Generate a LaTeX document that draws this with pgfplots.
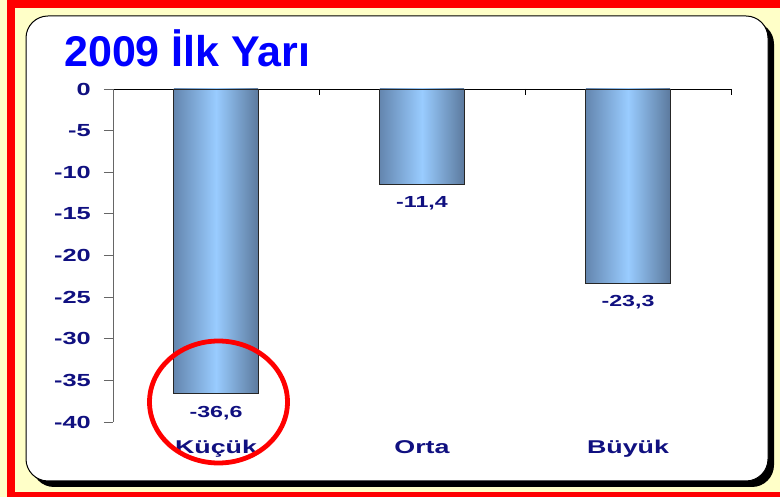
\documentclass[border=0pt]{standalone}
\usepackage{pgfplots}
\pgfplotsset{compat=1.18}
\usepackage{fontspec}
\setmainfont{Liberation Sans}
\newfontfamily\axfont[FakeStretch=1.45]{Liberation Sans}
\definecolor{navytext}{RGB}{16,16,128}
\definecolor{titleblue}{RGB}{0,0,255}
\definecolor{bgyellow}{RGB}{255,255,200}
\definecolor{barlight}{RGB}{153,204,255}
\definecolor{barleft}{RGB}{100,134,175}
\definecolor{barright}{RGB}{92,122,158}
\pgfplotsset{
  mybar/.style={ybar, bar width=0.41, bar shift=0pt, draw=black!85, line width=0.8bp,
    left color=barleft, right color=barright, middle color=barlight,
    every node near coord/.append style={text=navytext, font=\axfont\fontsize{16bp}{18bp}\selectfont\bfseries, anchor=north, inner sep=0pt, yshift=-12bp}},
}
\begin{document}
\begin{tikzpicture}
\useasboundingbox (0,0) rectangle (780bp,497bp);
\begin{scope}
\clip (0,0) rectangle (780bp,497bp);
\fill[bgyellow] (0,0) rectangle (780bp,497bp);
\draw[red, line width=8bp] (11bp,1bp) rectangle (800bp,492.5bp);
\fill[black, rounded corners=22bp] (32bp,10bp) rectangle (774bp,475bp);
\filldraw[fill=white, draw=black, line width=1bp, rounded corners=22bp] (26bp,16bp) rectangle (768bp,481bp);
\end{scope}
\node[anchor=base west, inner sep=0pt, text=titleblue, font=\fontsize{43bp}{48bp}\selectfont\bfseries] at (64bp,430bp) {2009 İlk Yarı};
\begin{axis}[
  at={(113bp,75bp)}, anchor=south west,
  scale only axis, width=618bp, height=333bp,
  xmin=0, xmax=3, ymin=-40, ymax=0,
  axis x line*=top, axis y line*=left,
  axis line style={-},
  x axis line style={black, line width=0.8bp},
  y axis line style={gray!80!black, line width=0.8bp},
  xtick pos=right, ytick pos=left,
  ytick={-40,-35,-30,-25,-20,-15,-10,-5,0},
  yticklabels={-40,-35,-30,-25,-20,-15,-10,-5,0},
  ytick align=outside,
  major tick length=9bp,
  ytick style={gray!80!black, line width=0.8bp},
  yticklabel style={font=\axfont\fontsize{17.5bp}{19bp}\selectfont\bfseries, text=navytext, anchor=east, inner sep=0pt, xshift=-13bp},
  xtick={0.5,1.5,2.5},
  xticklabels={Küçük,Orta,Büyük},
  xtick style={draw=none},
  xticklabel style={font=\axfont\fontsize{18.5bp}{20bp}\selectfont\bfseries, text=navytext, anchor=north, inner sep=0pt, yshift=-351bp},
  extra x ticks={1,2,3},
  extra x tick labels={},
  extra x tick style={xtick style={draw=black, line width=0.8bp}, xtick align=inside, major tick length=6bp},
  clip=false,
]
\addplot[mybar, nodes near coords={-36,6}] coordinates {(0.5,-36.6)};
\addplot[mybar, nodes near coords={-11,4}] coordinates {(1.5,-11.4)};
\addplot[mybar, nodes near coords={-23,3}] coordinates {(2.5,-23.3)};
\end{axis}
\draw[red, line width=4.8bp] (218.5bp,95bp) ellipse [x radius=69bp, y radius=61bp];
\end{tikzpicture}
\end{document}
